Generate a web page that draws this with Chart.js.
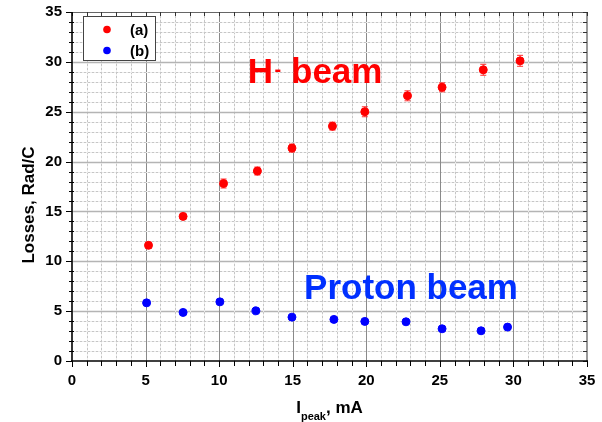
<!DOCTYPE html>
<html>
<head>
  <meta charset="UTF-8">
  <title>Losses vs peak current</title>
  <script src="https://cdn.jsdelivr.net/npm/chart.js"></script>
  <style>
    html, body { margin: 0; padding: 0; background: #fff; }
    canvas { display: block; }
  </style>
</head>
<body>
  <canvas id="lossChart" width="602" height="422"></canvas>

  <script>
    // data
    const seriesLabels = ['(a)', '(b)'];
    const hX   = [5.2, 7.55, 10.3, 12.6, 14.95, 17.7, 19.9, 22.8, 25.15, 27.95, 30.45];
    const hY   = [11.6, 14.5, 17.8, 19.05, 21.35, 23.55, 25.0, 26.6, 27.45, 29.2, 30.1];
    const hErr = [0.3, 0.3, 0.45, 0.4, 0.4, 0.4, 0.5, 0.5, 0.45, 0.55, 0.55];
    const pX   = [5.07, 7.55, 10.05, 12.5, 14.95, 17.8, 19.9, 22.7, 25.15, 27.8, 29.6];
    const pY   = [5.83, 4.87, 5.93, 5.03, 4.4, 4.17, 3.97, 3.93, 3.23, 3.03, 3.4];
    const pErr = [0.15, 0.15, 0.15, 0.15, 0.15, 0.15, 0.15, 0.15, 0.15, 0.15, 0.15];

    const xTitle = ['I', 'peak', ', mA'];
    const yTitle = 'Losses, Rad/C';
    const hLabel = ['H', '-', ' beam'];
    const pLabel = 'Proton beam';

    const FONT = '"Liberation Sans", Arial, sans-serif';
    const RED = '#ff0000';
    const BLUE = '#0000ff';

    function pts(xs, ys) {
      return xs.map((x, i) => ({ x: x, y: ys[i] }));
    }

    function line(ctx, x1, y1, x2, y2, color, w, dash) {
      ctx.save();
      ctx.strokeStyle = color;
      ctx.lineWidth = w;
      ctx.setLineDash(dash || []);
      ctx.beginPath();
      ctx.moveTo(x1, y1);
      ctx.lineTo(x2, y2);
      ctx.stroke();
      ctx.restore();
    }

    // grid, frame, ticks and error bars, Origin style
    const framePlugin = {
      id: 'frame',
      beforeDatasetsDraw(chart) {
        const ctx = chart.ctx;
        const a = chart.chartArea;
        const xs = chart.scales.x, ys = chart.scales.y;

        for (let v = 1; v < 35; v++) {
          const px = Math.round(xs.getPixelForValue(v)) + 0.5;
          const py = Math.round(ys.getPixelForValue(v)) + 0.5;
          if (v % 5 === 0) {
            line(ctx, px, a.top, px, a.bottom, '#8a8a8a', 1);
            line(ctx, a.left, py, a.right, py, '#b4b4b4', 1.6);
          } else {
            line(ctx, px, a.top, px, a.bottom, '#ececec', 1);
            line(ctx, px, a.top, px, a.bottom, '#c6c6c6', 1, [2, 2]);
            line(ctx, a.left, py, a.right, py, '#ececec', 1);
            line(ctx, a.left, py, a.right, py, '#c6c6c6', 1, [2, 2]);
          }
        }

        // error bars under the markers
        const drawErr = (xsArr, ysArr, errArr, color) => {
          xsArr.forEach((x, i) => {
            const px = xs.getPixelForValue(x);
            const y1 = ys.getPixelForValue(ysArr[i] - errArr[i]);
            const y2 = ys.getPixelForValue(ysArr[i] + errArr[i]);
            line(ctx, px, y1, px, y2, color, 1.2);
            line(ctx, px - 3, y1, px + 3, y1, color, 1.2);
            line(ctx, px - 3, y2, px + 3, y2, color, 1.2);
          });
        };
        drawErr(hX, hY, hErr, 'rgba(255,40,40,0.8)');
        drawErr(pX, pY, pErr, 'rgba(40,40,255,0.8)');
      },
      afterDatasetsDraw(chart) {
        const ctx = chart.ctx;
        const a = chart.chartArea;
        const xs = chart.scales.x, ys = chart.scales.y;

        // top and right frame with inward ticks
        line(ctx, a.left, a.top + 0.5, a.right, a.top + 0.5, '#666', 1);
        line(ctx, a.right, a.top, a.right, a.bottom, '#999', 2);
        for (let v = 0; v <= 35; v++) {
          const px = Math.round(xs.getPixelForValue(v)) + 0.5;
          const py = Math.round(ys.getPixelForValue(v)) + 0.5;
          line(ctx, px, a.top, px, a.top + 4, '#333', 1);
          line(ctx, a.right - 4, py, a.right, py, '#333', 1);
          // bottom and left, outward
          line(ctx, px, a.bottom, px, a.bottom + (v % 5 === 0 ? 6 : 5), '#000', 1);
          line(ctx, a.left - (v % 5 === 0 ? 6 : 3), py, a.left + (v % 5 === 0 ? 0 : 2), py, '#000', 1);
        }
        line(ctx, a.left, a.top, a.left, a.bottom + 1, '#000', 1.6);
        line(ctx, a.left - 1, a.bottom, a.right + 1, a.bottom, '#000', 1.6);

        // in-plot labels
        ctx.save();
        ctx.textBaseline = 'alphabetic';
        ctx.textAlign = 'left';
        let tx = xs.getPixelForValue(11.95);
        const ty = ys.getPixelForValue(27.9);
        ctx.fillStyle = RED;
        ctx.font = 'bold 35px ' + FONT;
        ctx.fillText(hLabel[0], tx, ty);
        tx += ctx.measureText(hLabel[0]).width + 1.5;
        ctx.font = 'bold 20px ' + FONT;
        ctx.fillText(hLabel[1], tx, ty - 7);
        tx += ctx.measureText(hLabel[1]).width;
        ctx.font = 'bold 35px ' + FONT;
        ctx.fillText(hLabel[2], tx, ty);

        ctx.fillStyle = '#0030ff';
        ctx.fillText(pLabel, xs.getPixelForValue(15.77), ys.getPixelForValue(6.22));
        ctx.restore();

        // legend box
        ctx.save();
        ctx.fillStyle = '#fff';
        ctx.fillRect(83, 16, 73, 45);
        ctx.strokeStyle = '#444';
        ctx.lineWidth = 1;
        ctx.strokeRect(83.5, 16.5, 72, 44);
        ctx.font = 'bold 15px ' + FONT;
        ctx.textBaseline = 'alphabetic';
        chart.data.datasets.forEach((ds, i) => {
          const cy = 29.5 + i * 21;
          ctx.fillStyle = ds.backgroundColor;
          ctx.beginPath();
          ctx.arc(107, cy, 3.8, 0, Math.PI * 2);
          ctx.fill();
          ctx.fillStyle = '#000';
          ctx.fillText(ds.label, 130, cy + 5.5);
        });
        ctx.restore();
      },
      afterDraw(chart) {
        const ctx = chart.ctx;
        const a = chart.chartArea;
        ctx.save();
        ctx.fillStyle = '#000';
        // x title with subscript
        const big = 'bold 17px ' + FONT, small = 'bold 11px ' + FONT;
        ctx.font = big;
        const w0 = ctx.measureText(xTitle[0]).width;
        const w2 = ctx.measureText(xTitle[2]).width;
        ctx.font = small;
        const w1 = ctx.measureText(xTitle[1]).width;
        let x = (a.left + a.right) / 2 - (w0 + w1 + w2) / 2;
        const base = 413;
        ctx.textAlign = 'left';
        ctx.font = big;
        ctx.fillText(xTitle[0], x, base);
        x += w0;
        ctx.font = small;
        ctx.fillText(xTitle[1], x, base + 7);
        x += w1;
        ctx.font = big;
        ctx.fillText(xTitle[2], x, base);

        // y title
        ctx.translate(29, 205);
        ctx.rotate(-Math.PI / 2);
        ctx.textAlign = 'center';
        ctx.textBaseline = 'middle';
        ctx.font = big;
        ctx.fillText(yTitle, 0, 0);
        ctx.restore();
      }
    };

    const ctx = document.getElementById('lossChart').getContext('2d');
    new Chart(ctx, {
      type: 'scatter',
      data: {
        datasets: [
          {
            label: seriesLabels[0],
            data: pts(hX, hY),
            backgroundColor: RED,
            borderColor: RED,
            pointRadius: 4,
            pointHoverRadius: 4
          },
          {
            label: seriesLabels[1],
            data: pts(pX, pY),
            backgroundColor: BLUE,
            borderColor: BLUE,
            pointRadius: 4,
            pointHoverRadius: 4
          }
        ]
      },
      options: {
        responsive: false,
        animation: false,
        events: [],
        layout: { padding: { top: 12, right: 15, left: 0, bottom: 0 } },
        plugins: {
          legend: { display: false },
          tooltip: { enabled: false }
        },
        scales: {
          x: {
            type: 'linear',
            min: 0,
            max: 35,
            grid: { display: false, drawTicks: false },
            border: { display: false },
            ticks: {
              stepSize: 5,
              padding: 11,
              color: '#000',
              font: { family: FONT, size: 15, weight: 'bold' }
            },
            afterFit: s => { s.height = 61; s.paddingLeft = 0; s.paddingRight = 0; }
          },
          y: {
            type: 'linear',
            min: 0,
            max: 35,
            grid: { display: false, drawTicks: false },
            border: { display: false },
            ticks: {
              stepSize: 5,
              padding: 10,
              color: '#000',
              font: { family: FONT, size: 15, weight: 'bold' }
            },
            afterFit: s => { s.width = 72; s.paddingTop = 0; s.paddingBottom = 0; }
          }
        }
      },
      plugins: [framePlugin]
    });
  </script>
</body>
</html>
